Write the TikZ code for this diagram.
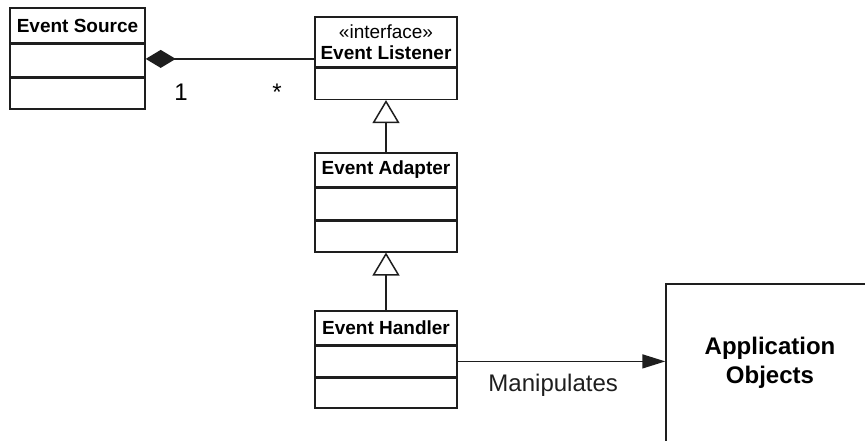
\documentclass[tikz,border=0pt]{standalone}
\usepackage{fontspec}
\setmainfont{Liberation Sans}
\usetikzlibrary{arrows.meta,positioning}
\definecolor{umlink}{RGB}{30,30,30}

\begin{document}
\begin{tikzpicture}[x=1pt,y=-1pt,
    classhead/.style={draw=umlink, line width=1.4pt, minimum width=142pt, minimum height=34pt,
          inner sep=0pt, align=center, font=\fontsize{19}{21}\selectfont\bfseries},
    classpart/.style={draw=umlink, line width=1.4pt, minimum width=142pt, minimum height=31pt, inner sep=0pt},
    inherit/.style={draw=umlink, line width=1.5pt, -{Triangle[open,length=23pt,width=27pt]}},
    plainlabel/.style={font=\fontsize{24}{29}\selectfont}]
    \clip (0,0) rectangle (865,440);

    \node[classhead, minimum width=135pt, minimum height=35pt] (srchead) at (77.5,25.5) {Event Source};
    \node[classpart, minimum width=135pt, minimum height=32pt, below=0pt of srchead] (srcattr) {};
    \node[classpart, minimum width=135pt, below=0pt of srcattr] (srcops) {};

    \node[classhead, minimum height=50pt] (lsnhead) at (386,42)
         {{\mdseries «interface»}\\Event Listener};
    \node[classpart, below=0pt of lsnhead] (lsnattr) {};

    \node[classhead] (adphead) at (386,170) {Event Adapter};
    \node[classpart, below=0pt of adphead] (adpattr) {};
    \node[classpart, below=0pt of adpattr] (adpops) {};

    \node[classhead] (hdlhead) at (386,328) {Event Handler};
    \node[classpart, minimum height=30pt, below=0pt of hdlhead] (hdlattr) {};
    \node[classpart, minimum height=30pt, below=0pt of hdlattr] (hdlops) {};

    \node[draw=umlink, line width=1.4pt, minimum width=208pt, minimum height=158pt, align=center,
          font=\fontsize{24}{29}\selectfont\bfseries] (app) at (770,363) {Application\\Objects};

    \coordinate (srcjoin) at ([yshift=1.5pt]srcattr.east);
    \draw[umlink, line width=1.5pt, {Diamond[length=30pt,width=18pt]}-] (srcjoin) -- (srcjoin -| lsnhead.west);
    \node[plainlabel, anchor=base] (multsrc) at (181,100) {1};
    \node[plainlabel, anchor=base] (multlsn) at (277,100) {*};

    \draw[inherit] (adphead.north) -- (lsnattr.south);
    \draw[inherit] (hdlhead.north) -- (adpops.south);

    \draw[umlink, line width=1.5pt, -{Triangle[length=23pt,width=14pt]}] (hdlattr.east)
        -- node[plainlabel, pos=0.46, below=9pt] (manip) {Manipulates} (hdlattr.east -| app.west);
\end{tikzpicture}
\end{document}
